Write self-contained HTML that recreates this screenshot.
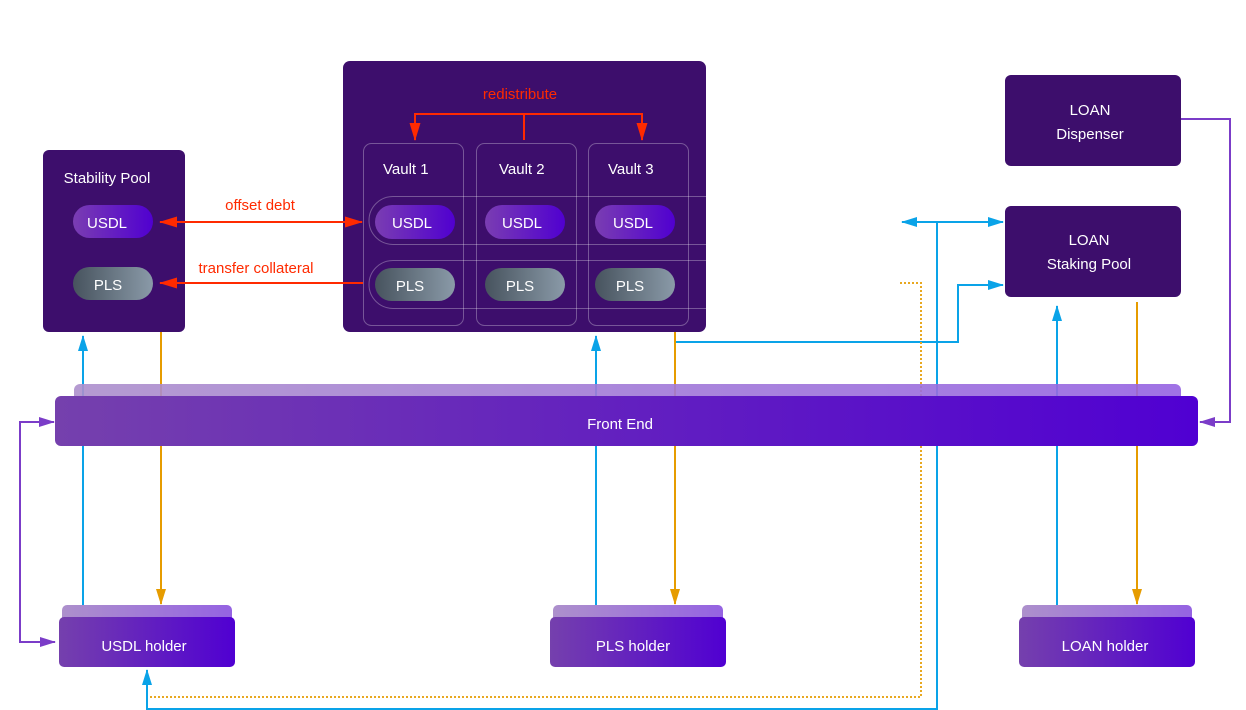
<!DOCTYPE html>
<html><head><meta charset="utf-8"><style>
html,body{margin:0;padding:0;background:#fff;width:1246px;height:710px;overflow:hidden}
text{font-family:"Liberation Sans",sans-serif}
</style></head><body>
<svg width="1246" height="710" viewBox="0 0 1246 710" xmlns="http://www.w3.org/2000/svg">
<defs>
<linearGradient id="gu" x1="0" x2="1"><stop offset="0" stop-color="#7a3db2"/><stop offset="1" stop-color="#5000d0"/></linearGradient>
<linearGradient id="gp" x1="0" x2="1"><stop offset="0" stop-color="#47535e"/><stop offset="1" stop-color="#8a9aa8"/></linearGradient>
<linearGradient id="gf" x1="0" x2="1"><stop offset="0" stop-color="#7540ad"/><stop offset="1" stop-color="#5000d2"/></linearGradient>
<linearGradient id="gb" x1="0" x2="1"><stop offset="0" stop-color="#ad90cc"/><stop offset="1" stop-color="#9563e2"/></linearGradient>
<marker id="ab" markerWidth="16" markerHeight="12" refX="15" refY="6" orient="auto" markerUnits="userSpaceOnUse"><path d="M0,1 L16,6 L0,11 Z" fill="#0aa3e8"/></marker>
<marker id="ao" markerWidth="16" markerHeight="12" refX="15" refY="6" orient="auto" markerUnits="userSpaceOnUse"><path d="M0,1 L16,6 L0,11 Z" fill="#e69c00"/></marker>
<marker id="ap" markerWidth="16" markerHeight="12" refX="15" refY="6" orient="auto" markerUnits="userSpaceOnUse"><path d="M0,1 L16,6 L0,11 Z" fill="#7b3cc8"/></marker>
<marker id="ar" markerWidth="18" markerHeight="12" refX="17" refY="6" orient="auto" markerUnits="userSpaceOnUse"><path d="M0,0.5 L18,6 L0,11.5 Z" fill="#ff2a00"/></marker>
<marker id="ars" markerWidth="18" markerHeight="12" refX="1" refY="6" orient="auto" markerUnits="userSpaceOnUse"><path d="M18,0.5 L0,6 L18,11.5 Z" fill="#ff2a00"/></marker>
<marker id="abs" markerWidth="16" markerHeight="12" refX="1" refY="6" orient="auto" markerUnits="userSpaceOnUse"><path d="M16,1 L0,6 L16,11 Z" fill="#0aa3e8"/></marker>
<marker id="aps" markerWidth="16" markerHeight="12" refX="1" refY="6" orient="auto" markerUnits="userSpaceOnUse"><path d="M16,1 L0,6 L16,11 Z" fill="#7b3cc8"/></marker>
</defs>

<g fill="none" stroke-width="2">
<path d="M83,605 V336" stroke="#0aa3e8" marker-end="url(#ab)"/>
<path d="M161,332 V604" stroke="#e69c00" marker-end="url(#ao)"/>
<path d="M55,642 H20 V422 H54" stroke="#7b3cc8" marker-start="url(#aps)" marker-end="url(#ap)"/>
<path d="M596,605 V336" stroke="#0aa3e8" marker-end="url(#ab)"/>
<path d="M675,332 V604" stroke="#e69c00" marker-end="url(#ao)"/>
<path d="M676,342 H958 V285 H1003" stroke="#0aa3e8" marker-end="url(#ab)"/>
<path d="M902,222 H1003" stroke="#0aa3e8" marker-start="url(#abs)" marker-end="url(#ab)"/>
<path d="M937,222 V709 H147 V670" stroke="#0aa3e8" marker-end="url(#ab)"/>
<path d="M900,283 H921 V697 H148" stroke="#e8a820" stroke-dasharray="2,2"/>
<path d="M1057,605 V306" stroke="#0aa3e8" marker-end="url(#ab)"/>
<path d="M1137,302 V604" stroke="#e69c00" marker-end="url(#ao)"/>
<path d="M1181,119 H1230 V422 H1200" stroke="#7b3cc8" marker-end="url(#ap)"/>
</g>

<rect x="74" y="384" width="1107" height="22" rx="6" fill="url(#gb)" opacity="0.9"/>
<rect x="55" y="396" width="1143" height="50" rx="6" fill="url(#gf)"/>
<text x="620" y="429" font-size="15" fill="#fff" text-anchor="middle">Front End</text>

<rect x="43" y="150" width="142" height="182" rx="6" fill="#3d0e6c"/>
<text x="107" y="183" font-size="15" fill="#fff" text-anchor="middle">Stability Pool</text>
<rect x="73" y="205" width="80" height="33" rx="16.5" fill="url(#gu)"/>
<text x="107" y="228" font-size="15" fill="#fff" text-anchor="middle">USDL</text>
<rect x="73" y="267" width="80" height="33" rx="16.5" fill="url(#gp)"/>
<text x="108" y="290" font-size="15" fill="#fff" text-anchor="middle">PLS</text>

<rect x="343" y="61" width="363" height="271" rx="7" fill="#3d0e6c"/>
<text x="520" y="99" font-size="15" fill="#ff2a00" text-anchor="middle">redistribute</text>
<g fill="none" stroke="#ff2a00" stroke-width="2">
<path d="M524,140 V114"/>
<path d="M415,114 H642"/>
<path d="M415,113 V140" marker-end="url(#ar)"/>
<path d="M642,113 V140" marker-end="url(#ar)"/>
</g>
<g fill="none" stroke="rgba(255,255,255,0.3)" stroke-width="1">
<rect x="363.5" y="143.5" width="100" height="182" rx="8"/>
<rect x="476.5" y="143.5" width="100" height="182" rx="8"/>
<rect x="588.5" y="143.5" width="100" height="182" rx="8"/>
<path d="M706,196.5 H393 A24,24 0 0 0 393,244.5 H706"/>
<path d="M706,260.5 H393 A24,24 0 0 0 393,308.5 H706"/>
</g>
<g font-size="15" fill="#fff">
<text x="383" y="174">Vault 1</text>
<text x="499" y="174">Vault 2</text>
<text x="608" y="174">Vault 3</text>
</g>
<rect x="375" y="205" width="80" height="34" rx="17" fill="url(#gu)"/>
<rect x="485" y="205" width="80" height="34" rx="17" fill="url(#gu)"/>
<rect x="595" y="205" width="80" height="34" rx="17" fill="url(#gu)"/>
<rect x="375" y="268" width="80" height="33" rx="16.5" fill="url(#gp)"/>
<rect x="485" y="268" width="80" height="33" rx="16.5" fill="url(#gp)"/>
<rect x="595" y="268" width="80" height="33" rx="16.5" fill="url(#gp)"/>
<g font-size="15" fill="#fff" text-anchor="middle">
<text x="412" y="228">USDL</text><text x="522" y="228">USDL</text><text x="633" y="228">USDL</text>
<text x="410" y="291">PLS</text><text x="520" y="291">PLS</text><text x="630" y="291">PLS</text>
</g>

<path d="M160,222 H362" stroke="#ff2a00" stroke-width="2" fill="none" marker-start="url(#ars)" marker-end="url(#ar)"/>
<path d="M363,283 H160" stroke="#ff2a00" stroke-width="2" fill="none" marker-end="url(#ar)"/>
<text x="260" y="210" font-size="15" fill="#ff2a00" text-anchor="middle">offset debt</text>
<text x="256" y="273" font-size="15" fill="#ff2a00" text-anchor="middle">transfer collateral</text>

<rect x="1005" y="75" width="176" height="91" rx="6" fill="#3d0e6c"/>
<text x="1090" y="115" font-size="15" fill="#fff" text-anchor="middle">LOAN</text>
<text x="1090" y="139" font-size="15" fill="#fff" text-anchor="middle">Dispenser</text>
<rect x="1005" y="206" width="176" height="91" rx="6" fill="#3d0e6c"/>
<text x="1089" y="245" font-size="15" fill="#fff" text-anchor="middle">LOAN</text>
<text x="1089" y="269" font-size="15" fill="#fff" text-anchor="middle">Staking Pool</text>

<rect x="62" y="605" width="170" height="22" rx="5" fill="url(#gb)"/>
<rect x="59" y="617" width="176" height="50" rx="5" fill="url(#gf)"/>
<text x="144" y="651" font-size="15" fill="#fff" text-anchor="middle">USDL holder</text>
<rect x="553" y="605" width="170" height="22" rx="5" fill="url(#gb)"/>
<rect x="550" y="617" width="176" height="50" rx="5" fill="url(#gf)"/>
<text x="633" y="651" font-size="15" fill="#fff" text-anchor="middle">PLS holder</text>
<rect x="1022" y="605" width="170" height="22" rx="5" fill="url(#gb)"/>
<rect x="1019" y="617" width="176" height="50" rx="5" fill="url(#gf)"/>
<text x="1105" y="651" font-size="15" fill="#fff" text-anchor="middle">LOAN holder</text>
</svg>
</body></html>
